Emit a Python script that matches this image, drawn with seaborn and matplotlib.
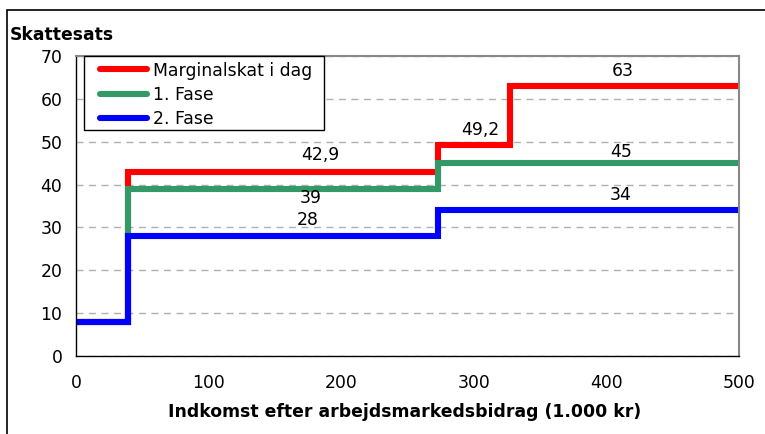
import matplotlib
matplotlib.use("Agg")
import matplotlib.pyplot as plt
import seaborn as sns
import pandas as pd
from matplotlib.patches import Rectangle

series_names = ["Marginalskat i dag", "1. Fase", "2. Fase"]
red_x = [0, 39, 273, 327, 500]
red_y = [8, 42.9, 49.2, 63, 63]
green_x = [0, 39, 273, 500]
green_y = [8, 39, 45, 45]
blue_x = [0, 39, 273, 500]
blue_y = [8, 28, 34, 34]

label_texts = ["42,9", "49,2", "63", "39", "45", "28", "34"]
label_x = [184, 305, 412, 177, 411, 175, 411]
label_y = [46.8, 52.8, 66.6, 36.8, 47.7, 31.7, 37.5]

xticks = [0, 100, 200, 300, 400, 500]
yticks = [0, 10, 20, 30, 40, 50, 60, 70]

colors = {"Marginalskat i dag": "#FF0000", "1. Fase": "#339966", "2. Fase": "#0000FF"}

FS = 12.4
W, H = 765, 434

rows = []
for name, xs, ys in zip(series_names, [red_x, green_x, blue_x], [red_y, green_y, blue_y]):
    for xv, yv in zip(xs, ys):
        rows.append({"x": xv, "y": yv, "serie": name})
df = pd.DataFrame(rows)

sns.set_style("white")
plt.rcParams["font.family"] = ["DejaVu Sans"]
plt.rcParams["text.color"] = "black"

fig = plt.figure(figsize=(W / 100, H / 100), dpi=100)
ax = fig.add_axes([76 / W, 1 - 356 / H, (739 - 76) / W, (356 - 56) / H])

sns.lineplot(data=df, x="x", y="y", hue="serie", palette=colors, hue_order=series_names,
             drawstyle="steps-post", linewidth=4.4, estimator=None, sort=False, ax=ax,
             solid_joinstyle="miter")

ax.set_xlim(0, 500)
ax.set_ylim(0, 70)
ax.set_xticks(xticks)
ax.set_yticks(yticks)
ax.tick_params(axis="both", direction="out", length=4.3, width=1, labelsize=FS,
               colors="black", labelcolor="black")
ax.tick_params(axis="x", pad=8.5)
ax.tick_params(axis="y", pad=5.5)
ax.yaxis.grid(True, linestyle=(0, (5, 4)), color="#B0B0B0", linewidth=1)
ax.set_axisbelow(True)
for s in ["left", "bottom"]:
    ax.spines[s].set_color("black")
    ax.spines[s].set_linewidth(1)
for s in ["top", "right"]:
    ax.spines[s].set_color("#888888")
    ax.spines[s].set_linewidth(1.5)
ax.set_xlabel("")
ax.set_ylabel("")

for t, xv, yv in zip(label_texts, label_x, label_y):
    ax.text(xv, yv, t, ha="center", va="center", fontsize=FS, color="black")

# legend box (drawn separately) and legend entries
fig.patches.append(Rectangle((84 / W, 1 - 130 / H), (324 - 84) / W, (130 - 56) / H,
                             transform=fig.transFigure, facecolor="white", edgecolor="black",
                             linewidth=1, zorder=5))
handles, labels = ax.get_legend_handles_labels()
leg = fig.legend(handles, labels, loc="upper left", bbox_to_anchor=(100 / W, 1 - 61.5 / H),
                 frameon=False, fontsize=FS, handlelength=47 / (FS * 100 / 72),
                 handletextpad=0.33, borderpad=0, labelspacing=0.36, borderaxespad=0)
leg.set_zorder(6)
if ax.get_legend() is not None:
    ax.get_legend().remove()
for line in leg.get_lines():
    line.set_linewidth(4.4)
    line.set_solid_capstyle("round")
for txt in leg.get_texts():
    txt.set_color("black")

fig.text(10 / W, 1 - 35 / H, "Skattesats", fontsize=FS, fontweight="bold", va="center",
         ha="left", color="black")
fig.text(405 / W, 1 - 412 / H, "Indkomst efter arbejdsmarkedsbidrag (1.000 kr)",
         fontsize=FS, fontweight="bold", va="center", ha="center", color="black")

fig.patches.append(Rectangle((7 / W, -0.05), 2.0, (1 - 10 / H) + 0.05, transform=fig.transFigure,
                             fill=False, edgecolor="black", linewidth=1.2))

fig.savefig("out.png", dpi=100)
